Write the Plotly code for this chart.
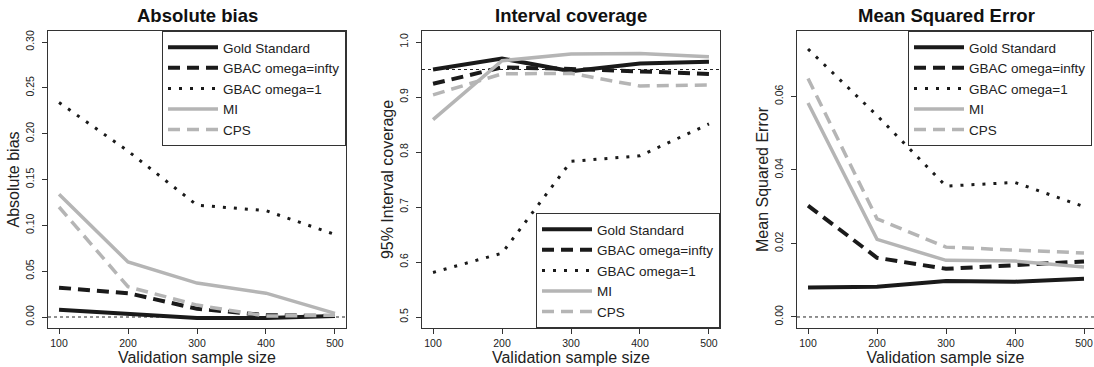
import plotly.graph_objects as go

sizes = [100, 200, 300, 400, 500]
methods = ["Gold Standard", "GBAC omega=infty", "GBAC omega=1", "MI", "CPS"]

bias_gold = [0.008, 0.003, -0.001, -0.001, 0.001]
bias_gbac_inf = [0.032, 0.026, 0.009, 0.002, 0.001]
bias_gbac_1 = [0.234, 0.181, 0.122, 0.116, 0.090]
bias_mi = [0.134, 0.060, 0.037, 0.026, 0.004]
bias_cps = [0.120, 0.033, 0.013, 0.001, 0.002]

cov_gold = [0.950, 0.970, 0.947, 0.961, 0.964]
cov_gbac_inf = [0.924, 0.954, 0.951, 0.946, 0.942]
cov_gbac_1 = [0.581, 0.616, 0.783, 0.793, 0.851]
cov_mi = [0.859, 0.966, 0.978, 0.979, 0.973]
cov_cps = [0.904, 0.942, 0.943, 0.920, 0.922]

mse_gold = [0.0080, 0.0082, 0.0098, 0.0096, 0.0104]
mse_gbac_inf = [0.0303, 0.0161, 0.0131, 0.0140, 0.0151]
mse_gbac_1 = [0.0729, 0.0548, 0.0356, 0.0366, 0.0300]
mse_mi = [0.0582, 0.0211, 0.0154, 0.0152, 0.0136]
mse_cps = [0.0649, 0.0267, 0.0190, 0.0181, 0.0174]

panel_titles = ["Absolute bias", "Interval coverage", "Mean Squared Error"]
y_titles = ["Absolute bias", "95% Interval coverage", "Mean Squared Error"]
ref_values = [0.0, 0.95, 0.0]
x_tick_vals = [100, 200, 300, 400, 500]
y_tick_vals = [[0.00, 0.05, 0.10, 0.15, 0.20, 0.25, 0.30],
               [0.5, 0.6, 0.7, 0.8, 0.9, 1.0],
               [0.00, 0.02, 0.04, 0.06]]
y_tick_fmt = [".2f", ".1f", ".2f"]

panels = [
    [bias_gold, bias_gbac_inf, bias_gbac_1, bias_mi, bias_cps],
    [cov_gold, cov_gbac_inf, cov_gbac_1, cov_mi, cov_cps],
    [mse_gold, mse_gbac_inf, mse_gbac_1, mse_mi, mse_cps],
]

BLACK = "#1a1a1a"
GREY = "#b5b5b5"
styles = [
    dict(color=BLACK, width=4, dash="solid"),
    dict(color=BLACK, width=4, dash="12px,7px"),
    dict(color=BLACK, width=3, dash="3px,8px"),
    dict(color=GREY, width=3.5, dash="solid"),
    dict(color=GREY, width=3.5, dash="12px,7px"),
]

W, H = 1094, 367
# plot boxes in pixels: (left, right, top, bottom)
boxes = [(48, 346, 31, 328), (422, 720, 31, 328), (797, 1094, 31, 328)]
x_ranges = [[84, 516], [84, 516], [84, 514.5]]
y_ranges = [[-0.012, 0.312], [0.48, 1.02], [-0.003, 0.0778]]

font_family = "Liberation Sans, Arial, Helvetica, sans-serif"
fig = go.Figure()
legend_names = ["legend", "legend2", "legend3"]

for p in range(3):
    xa = "x" if p == 0 else f"x{p+1}"
    ya = "y" if p == 0 else f"y{p+1}"
    for m in range(5):
        fig.add_trace(go.Scatter(
            x=sizes, y=panels[p][m], mode="lines", name=methods[m],
            line=styles[m], xaxis=xa, yaxis=ya, legend=legend_names[p],
            showlegend=True,
        ))

layout = dict(
    width=W, height=H, margin=dict(l=0, r=0, t=0, b=0),
    paper_bgcolor="white", plot_bgcolor="white",
    font=dict(family=font_family, color="#222222"),
    shapes=[], annotations=[],
)

for p in range(3):
    l, r, t, b = boxes[p]
    xk = "xaxis" if p == 0 else f"xaxis{p+1}"
    yk = "yaxis" if p == 0 else f"yaxis{p+1}"
    xa = "x" if p == 0 else f"x{p+1}"
    ya = "y" if p == 0 else f"y{p+1}"
    layout[xk] = dict(
        domain=[l / W, min(r / W, 1.0)], anchor=ya, range=x_ranges[p],
        tickvals=x_tick_vals, ticks="outside", ticklen=5, tickwidth=1,
        tickcolor="#333", showline=True, linecolor="#333", linewidth=1,
        mirror=True, showgrid=False, zeroline=False,
        tickfont=dict(size=10.5, color="#222"),
        title=dict(text="Validation sample size", font=dict(size=16, color="#222"), standoff=2),
        automargin=False,
    )
    layout[yk] = dict(
        domain=[1 - b / H, 1 - t / H], anchor=xa, range=y_ranges[p],
        tickvals=y_tick_vals[p], tickformat=y_tick_fmt[p], tickangle=-90,
        ticks="outside", ticklen=5, tickwidth=1, tickcolor="#333",
        showline=True, linecolor="#333", linewidth=1,
        mirror=(p != 2), showgrid=False, zeroline=False,
        tickfont=dict(size=10.5, color="#222"), ticklabelstandoff=4,
        title=dict(text=y_titles[p], font=dict(size=16, color="#222"), standoff=0),
        automargin=False,
    )
    layout["shapes"].append(dict(
        type="line", xref=f"{xa} domain", yref=ya, x0=0, x1=1,
        y0=ref_values[p], y1=ref_values[p],
        line=dict(color="#222", width=1, dash="3px,3px"), layer="below",
    ))
    layout["annotations"].append(dict(
        text=f"<b>{panel_titles[p]}</b>", xref="paper", yref="paper",
        x=(l + r) / 2 / W if p < 2 else (l + 1095) / 2 / W,
        y=1 - 15 / H, xanchor="center", yanchor="middle", showarrow=False,
        font=dict(size=18.5, color="#111"),
    ))

leg_common = dict(
    bgcolor="white", bordercolor="#333", borderwidth=1,
    font=dict(size=13.5, color="#222"), tracegroupgap=0,
    itemwidth=50,
)
layout["legend"] = dict(leg_common, x=346 / W, xanchor="right", y=1 - 31 / H, yanchor="top")
layout["legend2"] = dict(leg_common, x=720 / W, xanchor="right", y=1 - 328 / H, yanchor="bottom")
layout["legend3"] = dict(leg_common, x=908 / W, xanchor="left", y=1 - 31 / H, yanchor="top")

fig.update_layout(**layout)
fig.write_html("out.html")
